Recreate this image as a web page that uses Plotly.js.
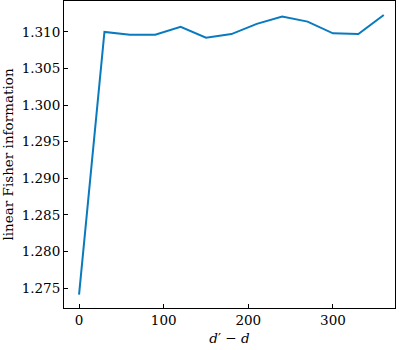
<!DOCTYPE html>
<html>
<head>
<meta charset="utf-8">
<script src="https://cdn.plot.ly/plotly-3.0.1.min.js"></script>
<style>
  html, body { margin: 0; padding: 0; background: white; }
  #chart { width: 399px; height: 350px; }
</style>
</head>
<body>
<div id="chart"></div>
<script>
// d' - d offsets and the linear Fisher information
const offsets = [0, 30, 60, 90, 120, 150, 180, 210, 240, 270, 300, 330, 360];
const fisherInfo = [1.2741, 1.3100, 1.3096, 1.3096, 1.3107, 1.3092, 1.3097,
                    1.3111, 1.3121, 1.3114, 1.3098, 1.3097, 1.3123];
const yTicks = [1.275, 1.280, 1.285, 1.290, 1.295, 1.300, 1.305, 1.310];
const xTicks = [0, 100, 200, 300];

const serif = '"DejaVu Serif", "Liberation Serif", serif';

const trace = {
    x: offsets,
    y: fisherInfo,
    mode: 'lines',
    line: { color: '#0a7abf', width: 2 },
    hoverinfo: 'skip'
};

const axisCommon = {
    showgrid: false,
    zeroline: false,
    showline: true,
    linecolor: 'black',
    linewidth: 1,
    mirror: true,
    ticks: 'inside',
    ticklen: 4,
    tickwidth: 1,
    tickcolor: 'black',
    tickfont: { family: serif, size: 13.5, color: 'black' }
};

const layout = {
    width: 399,
    height: 350,
    margin: { l: 64, r: 4, t: 1, b: 42 },
    paper_bgcolor: 'white',
    plot_bgcolor: 'white',
    showlegend: false,
    xaxis: {
        ...axisCommon,
        range: [-17.8, 373.3],
        tickvals: xTicks,
        title: { text: "<i>d</i>′ − <i>d</i>", font: { family: serif, size: 13.5, color: 'black' }, standoff: 6 }
    },
    yaxis: {
        ...axisCommon,
        range: [1.27228, 1.31422],
        tickvals: yTicks,
        tickformat: '.3f',
        title: { text: 'linear Fisher information', font: { family: serif, size: 13.5, color: 'black' }, standoff: 4 }
    }
};

Plotly.newPlot('chart', [trace], layout, { displayModeBar: false, staticPlot: true });
</script>
</body>
</html>
